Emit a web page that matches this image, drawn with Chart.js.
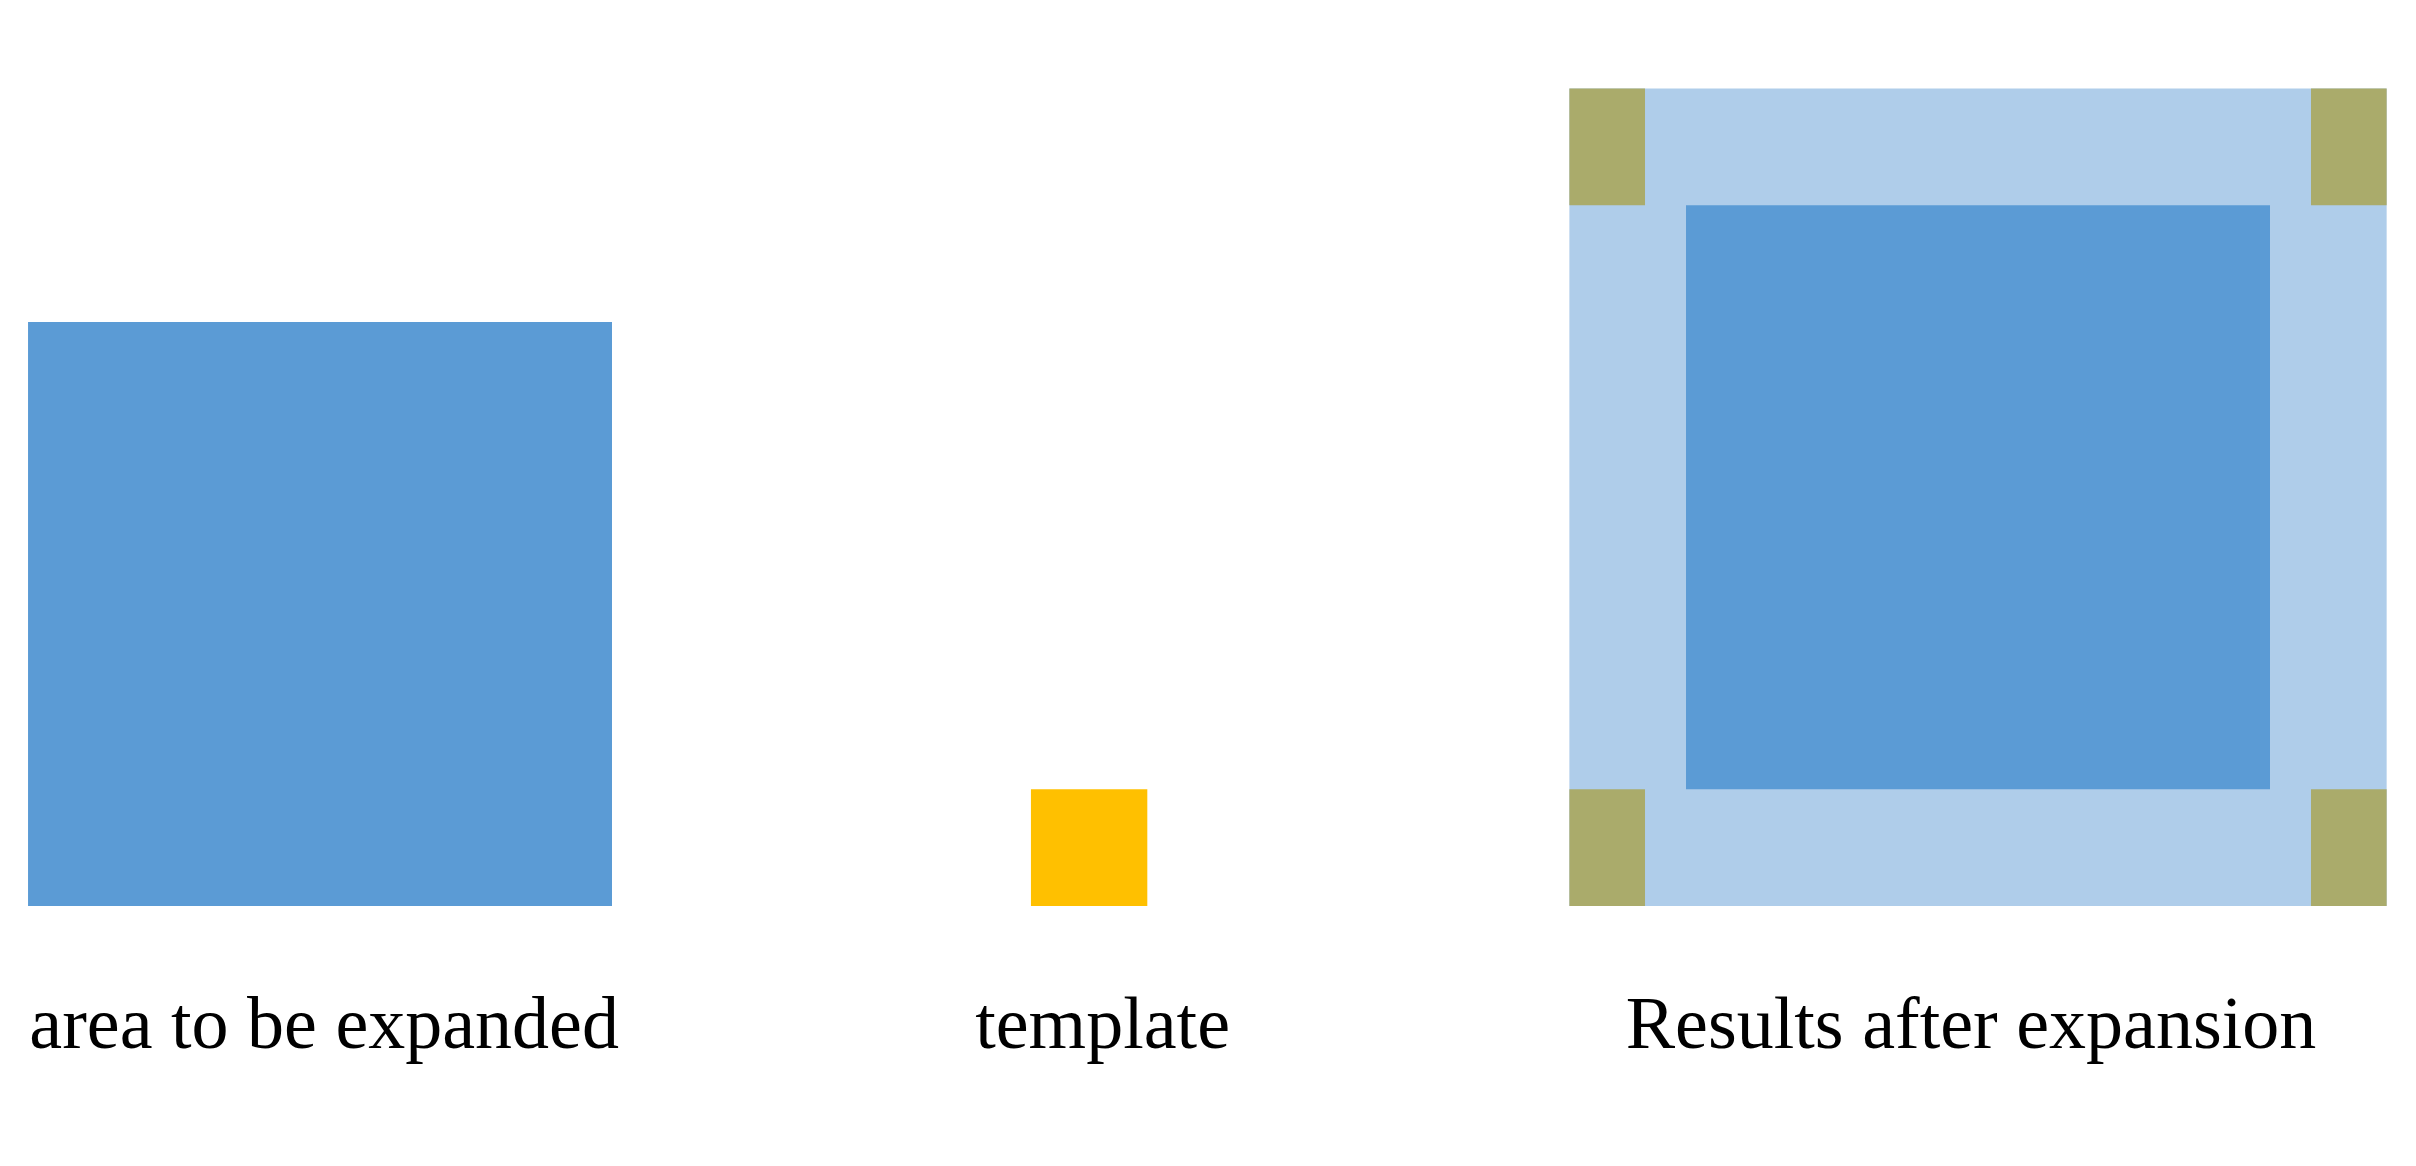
<!DOCTYPE html>
<html><head><meta charset="utf-8">
<script src="https://cdn.jsdelivr.net/npm/chart.js@4"></script>
<style>html,body{margin:0;padding:0;background:#fff;overflow:hidden}</style>
</head><body>
<canvas id="c" width="2416" height="1166"></canvas>
<script>
// rectangles: [x0, x1, y0, y1] in abstract units
const rectNames = ["outer","inner","cornerTL","cornerTR","cornerBL","cornerBR","area","template"];
const rectValues = [
  [26.87,40.87,4.45,18.45],
  [28.87,38.87,6.45,16.45],
  [26.87,28.17,16.45,18.45],
  [39.57,40.87,16.45,18.45],
  [26.87,28.17,4.45,6.45],
  [39.57,40.87,4.45,6.45],
  [0.48,10.48,4.45,14.45],
  [17.65,19.65,4.45,6.45]
];
const rectColors = ["#AFCDEA","#5B9BD5","#AAAB6B","#AAAB6B","#AAAB6B","#AAAB6B","#5B9BD5","#FFC000"];
const labelTexts = ["area to be expanded","template","Results after expansion"];
const labelX = [5.55,18.88,33.75];
const labelY = [2.35,2.35,2.35];

const datasets = rectValues.map((r,i)=>({
  label: rectNames[i],
  data: [{x:r[0],y:r[3]},{x:r[1],y:r[3]}],
  showLine: true, pointRadius: 0, borderWidth: 0,
  backgroundColor: rectColors[i], borderColor: rectColors[i],
  fill: {value: r[2]}
})).reverse();

const labelPlugin = {
  id:'labels',
  afterDatasetsDraw(chart){
    const ctx = chart.ctx, xs = chart.scales.x, ys = chart.scales.y;
    ctx.save();
    ctx.fillStyle = '#000';
    ctx.font = '74px "Liberation Serif"';
    ctx.textAlign = 'center'; ctx.textBaseline = 'middle';
    labelTexts.forEach((t,i)=>ctx.fillText(t, xs.getPixelForValue(labelX[i]), ys.getPixelForValue(labelY[i])));
    ctx.restore();
  }
};

new Chart(document.getElementById('c'), {
  type: 'scatter',
  data: { datasets },
  options: {
    responsive: false, devicePixelRatio: 1, animation: false,
    layout: {padding: 0},
    plugins: {legend:{display:false}, tooltip:{enabled:false}, filler:{drawTime:'beforeDatasetDraw'}},
    scales: {
      x: {type:'linear', min:0, max:2416/58.4, display:false},
      y: {type:'linear', min:0, max:1166/58.4, display:false}
    }
  },
  plugins: [labelPlugin]
});
</script>
</body></html>
